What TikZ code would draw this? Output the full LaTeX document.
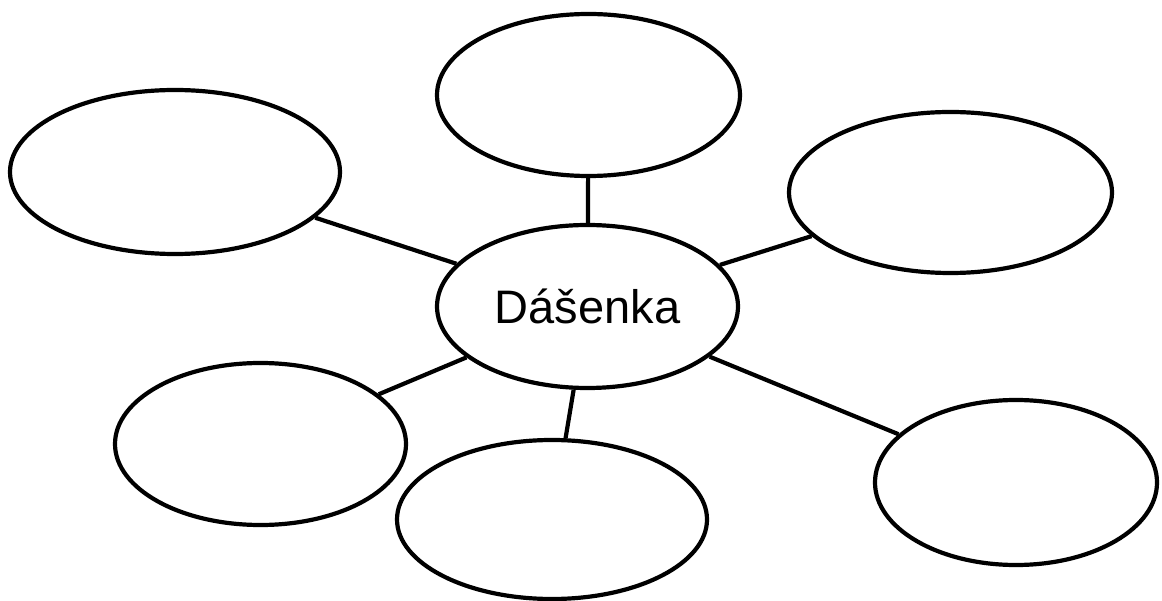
\documentclass[tikz,border=0pt]{standalone}
\usepackage{fontspec}
\setmainfont{Liberation Sans}
\usetikzlibrary{shapes.geometric}
\begin{document}
\begin{tikzpicture}[x=1pt,y=-1pt,
  bubble/.style={ellipse,draw=black,line width=4.2pt,fill=white,inner sep=0pt},
  link/.style={draw=black,line width=4.2pt}]
\useasboundingbox (0,0) rectangle (1162,601);
\node[bubble,minimum width=301pt,minimum height=163pt,font=\fontsize{47}{56}\selectfont] (c) at (587.5,306.5) {Dášenka};
\node[bubble,minimum width=303pt,minimum height=162pt] (t) at (588.5,95) {};
\node[bubble,minimum width=330pt,minimum height=164pt] (ul) at (175,172) {};
\node[bubble,minimum width=323pt,minimum height=161pt] (ur) at (950.5,192.5) {};
\node[bubble,minimum width=291pt,minimum height=162pt] (ll) at (260.5,444) {};
\node[bubble,minimum width=310pt,minimum height=159pt] (b) at (552,519.5) {};
\node[bubble,minimum width=282pt,minimum height=165pt] (lr) at (1016,482.5) {};
\draw[link] (c) -- (t);
\draw[link] (c) -- (ul);
\draw[link] (c) -- (ur);
\draw[link] (c) -- (ll);
\draw[link] (c) -- (b);
\draw[link] (c) -- (lr);
\end{tikzpicture}
\end{document}
